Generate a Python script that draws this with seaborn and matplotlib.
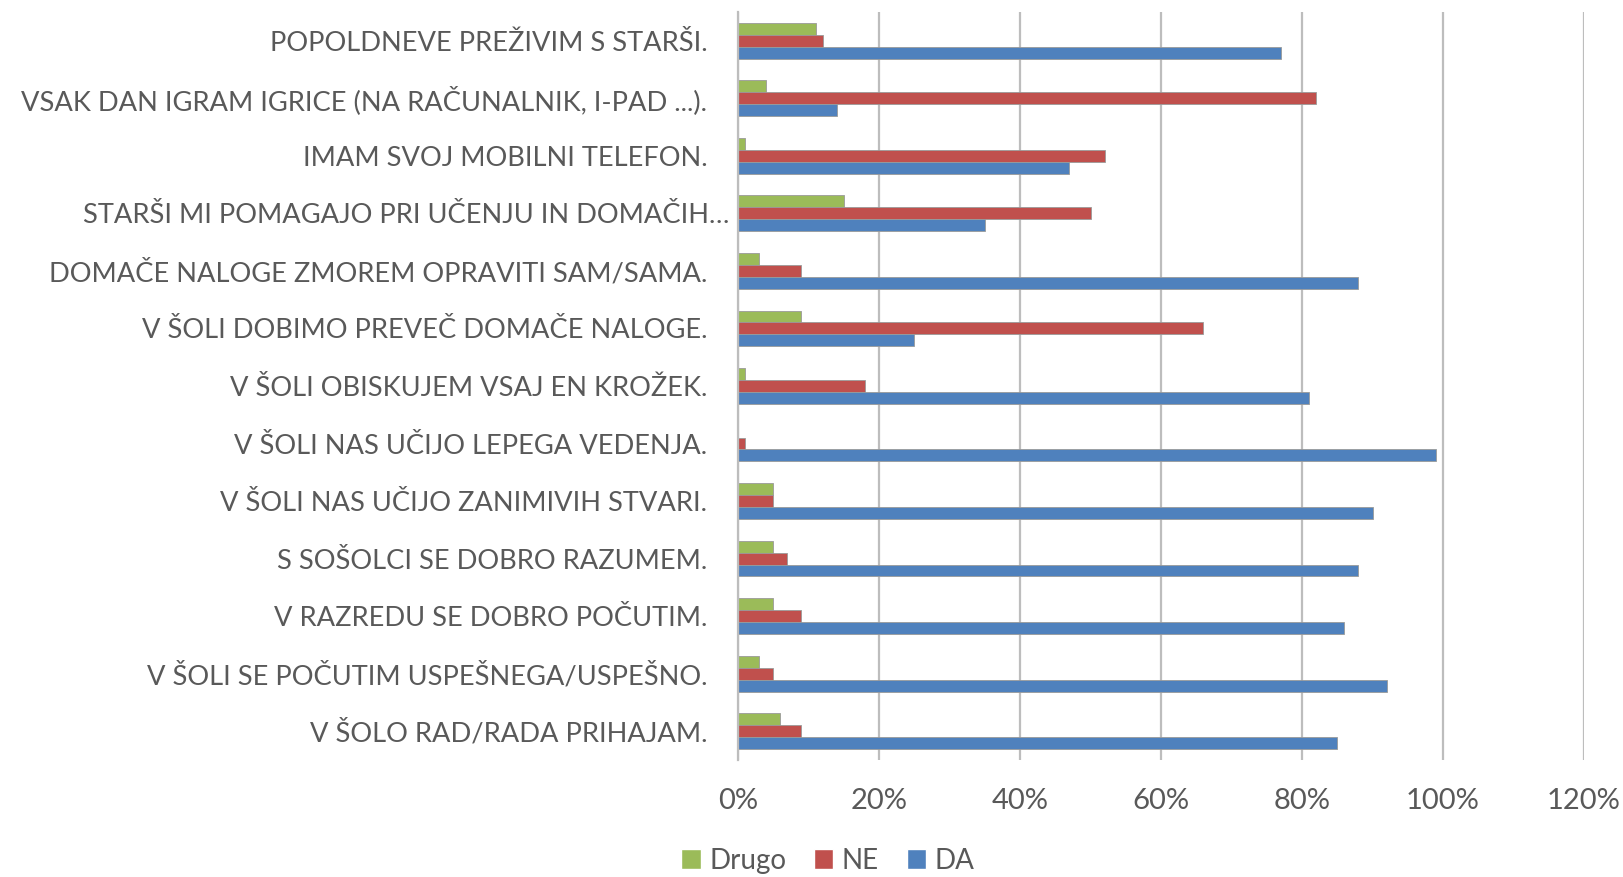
import matplotlib
matplotlib.use("Agg")
import matplotlib.pyplot as plt
import matplotlib.transforms as mtransforms
import seaborn as sns
import pandas as pd
from matplotlib.ticker import PercentFormatter
from matplotlib.patches import Patch

statements = [
    "POPOLDNEVE PREŽIVIM S STARŠI.",
    "VSAK DAN IGRAM IGRICE (NA RAČUNALNIK, I-PAD ...).",
    "IMAM SVOJ MOBILNI TELEFON.",
    "STARŠI MI POMAGAJO PRI UČENJU IN DOMAČIH…",
    "DOMAČE NALOGE ZMOREM OPRAVITI SAM/SAMA.",
    "V ŠOLI DOBIMO PREVEČ DOMAČE NALOGE.",
    "V ŠOLI OBISKUJEM VSAJ EN KROŽEK.",
    "V ŠOLI NAS UČIJO LEPEGA VEDENJA.",
    "V ŠOLI NAS UČIJO ZANIMIVIH STVARI.",
    "S SOŠOLCI SE DOBRO RAZUMEM.",
    "V RAZREDU SE DOBRO POČUTIM.",
    "V ŠOLI SE POČUTIM USPEŠNEGA/USPEŠNO.",
    "V ŠOLO RAD/RADA PRIHAJAM.",
]
drugo = [11, 4, 1, 15, 3, 9, 1, 0, 5, 5, 5, 3, 6]
ne = [12, 82, 52, 50, 9, 66, 18, 1, 5, 7, 9, 5, 9]
da = [77, 14, 47, 35, 88, 25, 81, 99, 90, 88, 86, 92, 85]

series = ["Drugo", "NE", "DA"]
colors = {"Drugo": "#9BBB59", "NE": "#C0504D", "DA": "#4F81BD"}

rows = []
for name, vals in zip(series, [drugo, ne, da]):
    for s, v in zip(statements, vals):
        rows.append({"trditev": s, "odgovor": name, "delez": v})
df = pd.DataFrame(rows)

sns.set_style("white")
plt.rcParams["font.family"] = ["Lato", "DejaVu Sans"]
text_col = "#595959"

fig = plt.figure(figsize=(16.23, 8.77), dpi=100)
ax = fig.add_axes([0.4547, 0.1334, 0.5213, 0.853])

sns.barplot(data=df, x="delez", y="trditev", hue="odgovor", order=statements,
            hue_order=series, palette=colors, saturation=1, orient="h", width=0.62,
            edgecolor="#9a9a9a", linewidth=0.6, legend=False, ax=ax)

ax.set_xlim(0, 120)
ax.set_xticks(range(0, 121, 20))
ax.xaxis.set_major_formatter(PercentFormatter(decimals=0))
ax.grid(axis="x", color="#bdbdbd", linewidth=1.6)
ax.set_axisbelow(True)
for side in ["top", "right", "bottom"]:
    ax.spines[side].set_visible(False)
ax.spines["left"].set_color("#bdbdbd")
ax.spines["left"].set_linewidth(1.6)
ax.set_xlabel("")
ax.set_ylabel("")
ax.tick_params(axis="y", length=0, pad=22, labelsize=19.6, labelcolor=text_col)
ax.tick_params(axis="x", length=0, pad=20, labelsize=21, labelcolor=text_col)

# the truncated label sticks out a bit to the right, as in the original
lab = ax.get_yticklabels()[3]
lab.set_transform(lab.get_transform() + mtransforms.ScaledTranslation(16 / 72, 0, fig.dpi_scale_trans))

handles = [Patch(facecolor=colors[s], label=s) for s in series]
fig.legend(handles=handles, loc="lower center", bbox_to_anchor=(0.51, -0.025),
           ncol=3, frameon=False, fontsize=20, labelcolor=text_col,
           handlelength=0.7, handleheight=0.7, handletextpad=0.3, columnspacing=1.0)

fig.savefig("out.png", dpi=100)
